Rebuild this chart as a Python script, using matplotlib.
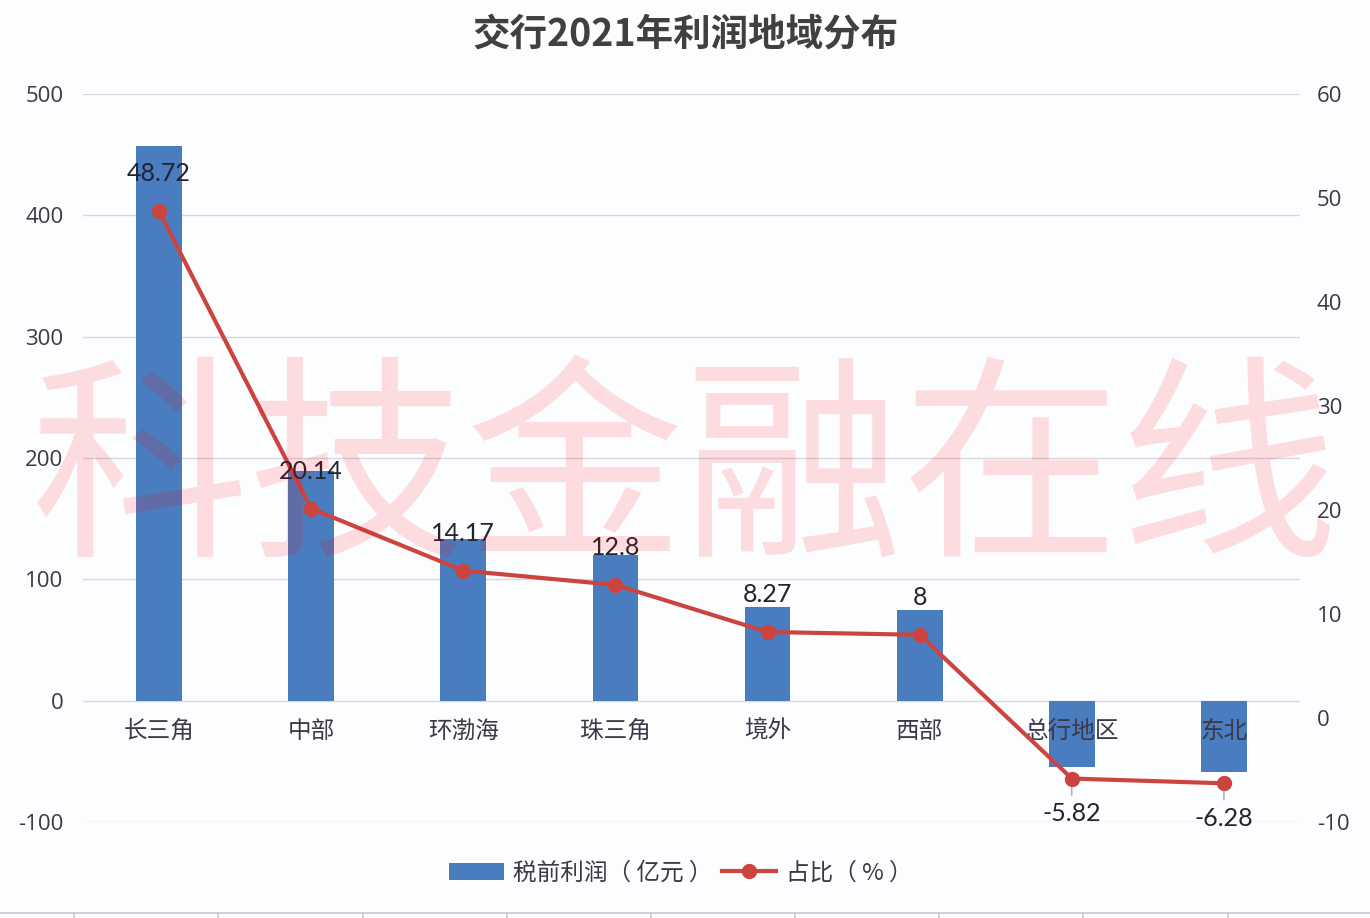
import matplotlib
matplotlib.use("Agg")
import matplotlib.pyplot as plt
from matplotlib.lines import Line2D
from matplotlib.patches import Patch

plt.rcParams['font.family'] = ['Noto Sans CJK SC', 'DejaVu Sans']
NUM_FONT = ['Open Sans', 'DejaVu Sans']
LBL_FONT = ['Lato', 'DejaVu Sans']

title = "交行2021年利润地域分布"
categories = ["长三角", "中部", "环渤海", "珠三角", "境外", "西部", "总行地区", "东北"]
profit = [457.4, 189.1, 133.0, 120.2, 77.6, 75.1, -54.6, -59.0]
share = [48.72, 20.14, 14.17, 12.8, 8.27, 8, -5.82, -6.28]
left_ticks = [-100, 0, 100, 200, 300, 400, 500]
right_ticks = [-10, 0, 10, 20, 30, 40, 50, 60]
bar_label = "税前利润（ 亿元 ）"
line_label = "占比（ % ）"
watermark = "科技金融在线"

W, H = 1370, 918
fig = plt.figure(figsize=(W / 100, H / 100), dpi=100, facecolor='#fcfdff')
ax = fig.add_axes([83 / W, 1 - 822 / H, (1300 - 83) / W, (822 - 94) / H])
ax.set_facecolor('none')
ax2 = ax.twinx()

bar_color = '#4a7dbf'
line_color = '#cc4440'
text_color = '#3b3848'

x = list(range(len(categories)))
ax.bar(x, profit, width=0.30, color=bar_color, zorder=2)
ax.set_xlim(-0.5, len(categories) - 0.5)
ax.set_ylim(-100, 500)
ax.set_yticks(left_ticks)
ax.set_yticklabels([str(t) for t in left_ticks], family=NUM_FONT)
ax.grid(axis='y', color='#d8d8e0', linewidth=1)
ax.set_axisbelow(True)
ax.set_xticks([])
ax.tick_params(axis='y', length=0, pad=14, labelsize=16, labelcolor=text_color)

for xi, c in zip(x, categories):
    ax.annotate(c, (xi, 0), xytext=(0, -22), textcoords='offset points',
                ha='center', va='center', fontsize=17, color=text_color, zorder=3)

ax2.plot(x, share, color=line_color, linewidth=3, marker='o', markersize=10, zorder=4)
ax2.set_ylim(-10, 60)
ax2.set_yticks(right_ticks)
ax2.set_yticklabels([str(t) for t in right_ticks], family=NUM_FONT)
ax2.tick_params(axis='y', length=0, pad=12, labelsize=16, labelcolor=text_color)

for xi, v in zip(x, share):
    off = 27 if v > 0 else -25
    ax2.annotate(f"{v:g}", (xi, v), xytext=(0, off), textcoords='offset points',
                 ha='center', va='center', fontsize=18, color='#222230', zorder=5,
                 family=LBL_FONT)
    if v < 0:
        ax2.annotate("", (xi, v), xytext=(0, -12), textcoords='offset points',
                     arrowprops=dict(arrowstyle='-', color='#9090a0', lw=0.8,
                                     shrinkA=0, shrinkB=5))

for a in (ax, ax2):
    for s in a.spines.values():
        s.set_visible(False)

fig.text(0.5, 1 - 34 / H, title, ha='center', va='center', fontsize=27,
         fontweight='bold', color='#404040')

handles = [Patch(facecolor=bar_color, edgecolor='none'),
           Line2D([0], [0], color=line_color, linewidth=3, marker='o', markersize=10)]
fig.legend(handles, [bar_label, line_label], loc='center', ncol=2,
           bbox_to_anchor=(0.497, 1 - 873 / H), frameon=False, fontsize=17,
           handlelength=2.3, handleheight=0.7, columnspacing=0.4, handletextpad=0.4,
           labelcolor=text_color)

fig.text(0.5, 1 - 478 / H, watermark, ha='center', va='center', fontsize=157,
         color='#ff0000', alpha=0.13, zorder=10)

# spreadsheet grid remnants at bottom
fig.add_artist(Line2D([0, 1], [1 - 913 / H, 1 - 913 / H], color='#c8c8d0', lw=1.2))
for px in [74, 218, 363, 507, 651, 795, 939, 1083, 1228]:
    fig.add_artist(Line2D([px / W, px / W], [0, 1 - 913 / H], color='#c8c8d0', lw=1.2))

fig.savefig("out.png", dpi=100, facecolor=fig.get_facecolor())
